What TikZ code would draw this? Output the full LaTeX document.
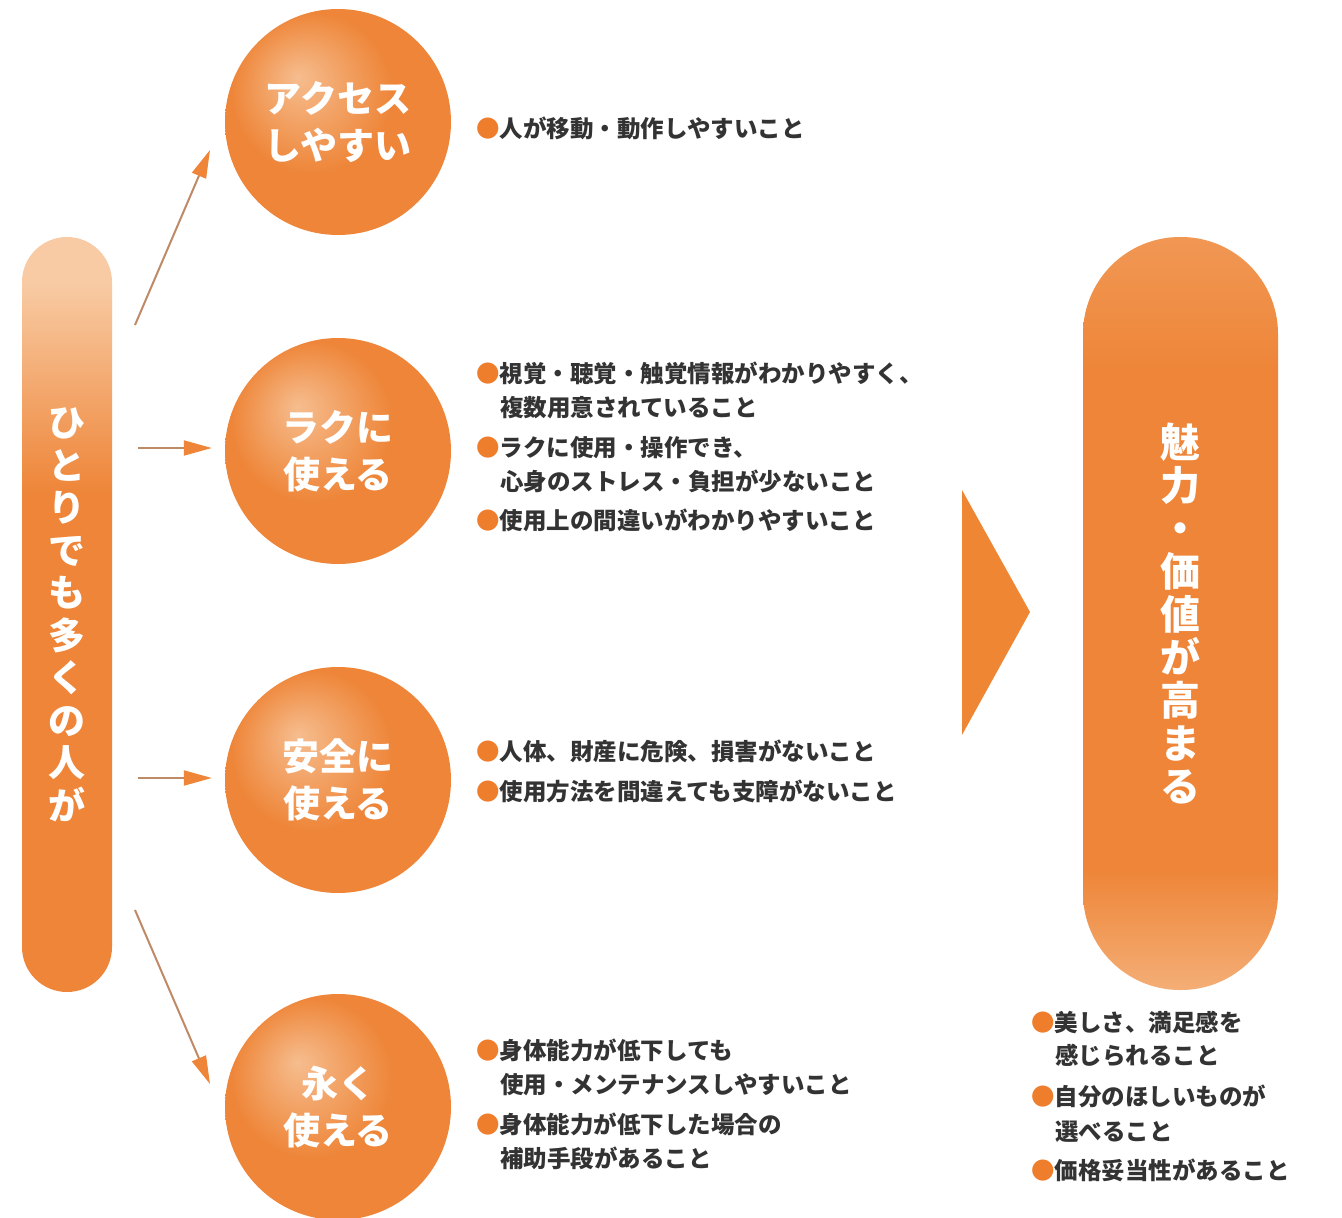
\documentclass[tikz,border=0pt]{standalone}
\usepackage{fontspec}
\setmainfont{Noto Sans CJK JP}
\usetikzlibrary{arrows.meta,calc}
\definecolor{orng}{HTML}{EE8538}
\definecolor{peach}{HTML}{F8CBA4}
\definecolor{lightor}{HTML}{F4AE76}
\definecolor{txt}{HTML}{333333}
\definecolor{arrc}{HTML}{BF8A66}
\definecolor{bulc}{HTML}{EE7D2C}
\definecolor{trio}{HTML}{EF8633}
\pgfdeclareradialshading{orbshade}{\pgfpoint{-9bp}{10bp}}{color(0bp)=(peach!80!orng); color(18bp)=(orng); color(50bp)=(orng)}
\pgfdeclareverticalshading{lpillshade}{100bp}{color(0bp)=(orng); color(25bp)=(orng); color(58bp)=(orng); color(72bp)=(peach); color(100bp)=(peach)}
\pgfdeclareverticalshading{rpillshade}{100bp}{color(0bp)=(lightor); color(25bp)=(lightor); color(33bp)=(orng); color(66bp)=(orng); color(75bp)=(orng!55!lightor); color(100bp)=(orng!55!lightor)}
\newcommand\obul{{\color{bulc}●}}
\tikzset{
  orb/.style={circle, shading=orbshade, minimum size=226pt, inner sep=0pt, text=white,
    font=\bfseries\fontsize{37}{47}\selectfont, align=center},
  arr/.style={draw=arrc, line width=2pt, -{Triangle[length=28pt,width=15pt,color=orng]}},
  item/.style={anchor=base west, inner sep=0pt, text=txt, font=\bfseries\fontsize{23.5}{30}\selectfont},
  pill/.style={rectangle, inner sep=0pt, text=white, align=center}
}
\begin{document}
\begin{tikzpicture}[x=1pt,y=-1pt]
\useasboundingbox (0,0) rectangle (1342,1218);
\fill[white] (0,0) rectangle (1342,1218);

% left pill
\node[pill, rounded corners=45pt, minimum width=90pt, minimum height=755pt, shading=lpillshade,
  font=\bfseries\fontsize{37}{42.5}\selectfont] (L) at (67,614.5)
  {ひ\\と\\り\\で\\も\\多\\く\\の\\人\\が};

% circles
\node[orb] (c1) at (338,122) {アクセス\\しやすい};
\node[orb] (c2) at (338,451) {ラクに\\使える};
\node[orb] (c3) at (338,780) {安全に\\使える};
\node[orb] (c4) at (338,1107) {永く\\使える};

% right pill
\node[pill, rounded corners=97pt, minimum width=195pt, minimum height=753pt, shading=rpillshade,
  font=\bfseries\fontsize{40}{43}\selectfont] (R) at (1180.5,613.5)
  {魅\\力\\・\\価\\値\\が\\高\\ま\\る};

% big triangle
\fill[trio] (962,490) -- (1030,612) -- (962,735) -- cycle;

% arrows
\coordinate (s1) at (135,325);
\coordinate (e1) at (210,150);
\coordinate (s4) at (135,910);
\coordinate (e4) at (210,1084);
\draw[arr] (s1) -- (e1);
\draw[arr] ($(L.east |- c2.west)+(26,-3)$) -- ($(c2.west)+(-13,-3)$);
\draw[arr] ($(L.east |- c3.west)+(26,-2)$) -- ($(c3.west)+(-13,-2)$);
\draw[arr] (s4) -- (e4);

% texts circle 1
\node[item] (t11) at (476,137) {\obul 人が移動・動作しやすいこと};
% circle 2
\node[item] (t21) at (476,382) {\obul 視覚・聴覚・触覚情報がわかりやすく、};
\node[item] (t22) at (500,416) {複数用意されていること};
\node[item] (t23) at (476,456) {\obul ラクに使用・操作でき、};
\node[item] (t24) at (500,490) {心身のストレス・負担が少ないこと};
\node[item] (t25) at (476,529) {\obul 使用上の間違いがわかりやすいこと};
% circle 3
\node[item] (t31) at (476,760) {\obul 人体、財産に危険、損害がないこと};
\node[item] (t32) at (476,800) {\obul 使用方法を間違えても支障がないこと};
% circle 4
\node[item] (t41) at (476,1059) {\obul 身体能力が低下しても};
\node[item] (t42) at (500,1093) {使用・メンテナンスしやすいこと};
\node[item] (t43) at (476,1133) {\obul 身体能力が低下した場合の};
\node[item] (t44) at (500,1167) {補助手段があること};
% right
\node[item] (r1) at (1031,1031) {\obul 美しさ、満足感を};
\node[item] (r2) at (1055,1064) {感じられること};
\node[item] (r3) at (1031,1105) {\obul 自分のほしいものが};
\node[item] (r4) at (1055,1140) {選べること};
\node[item] (r5) at (1031,1179) {\obul 価格妥当性があること};
\end{tikzpicture}
\end{document}
